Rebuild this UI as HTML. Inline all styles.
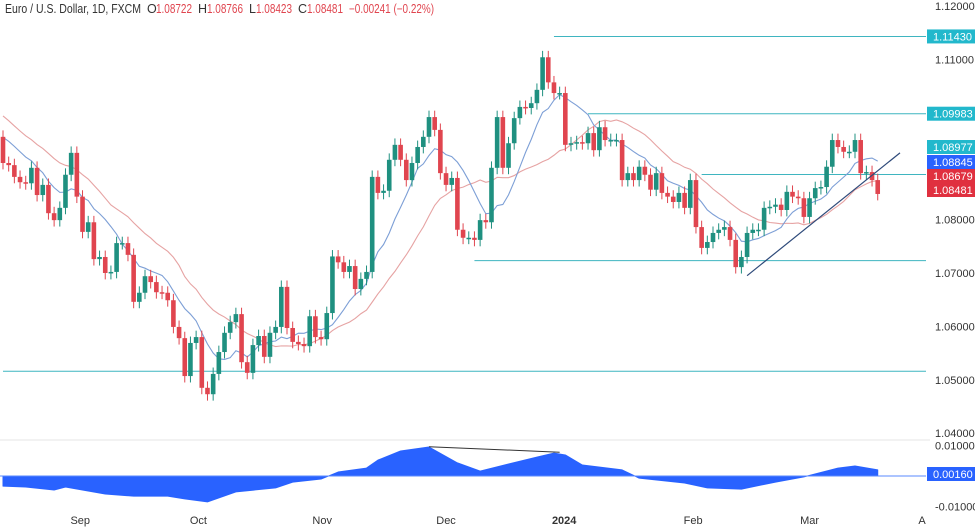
<!DOCTYPE html>
<html><head><meta charset="utf-8"><style>
body{margin:0;background:#fff;width:975px;height:528px;overflow:hidden;font-family:"Liberation Sans",sans-serif}
svg{display:block}
</style></head><body>
<svg id="c" width="975" height="528" xmlns="http://www.w3.org/2000/svg">
<g font-size="12.5">
<text x="5" y="13" fill="#333" textLength="136" lengthAdjust="spacingAndGlyphs">Euro / U.S. Dollar, 1D, FXCM</text>
<text x="147" y="13" fill="#333">O</text><text x="156" y="13" fill="#e0454f" textLength="36" lengthAdjust="spacingAndGlyphs">1.08722</text>
<text x="198" y="13" fill="#333">H</text><text x="207" y="13" fill="#e0454f" textLength="36" lengthAdjust="spacingAndGlyphs">1.08766</text>
<text x="249" y="13" fill="#333">L</text><text x="256" y="13" fill="#e0454f" textLength="36" lengthAdjust="spacingAndGlyphs">1.08423</text>
<text x="298" y="13" fill="#333">C</text><text x="307" y="13" fill="#e0454f" textLength="36" lengthAdjust="spacingAndGlyphs">1.08481</text>
<text x="349" y="13" fill="#e0454f" textLength="85" lengthAdjust="spacingAndGlyphs">−0.00241 (−0.22%)</text>
</g>
<line x1="0" y1="440" x2="930" y2="440" stroke="#e6e6e6"/>
<g id="g"></g>
</svg>
<script>
const priorCloses=[1.1090,1.1080,1.1075,1.1060,1.1050,1.1040,1.1030,1.1010,1.1000,1.0990,1.0985,1.0975,1.0970,1.0965,1.0960,1.0958,1.0960,1.0958,1.0955,1.0955];
const firstOpen=1.0955;
const closes=[1.0906,1.0902,1.0880,1.0870,1.0868,1.0897,1.0846,1.0865,1.0812,1.0799,1.0822,1.0884,1.0925,1.0843,1.0777,1.0795,1.0726,1.0730,1.0700,1.0702,1.0756,1.0756,1.0734,1.0646,1.0663,1.0694,1.0683,1.0664,1.0663,1.0649,1.0599,1.0578,1.0507,1.0569,1.0580,1.0485,1.0473,1.0511,1.0552,1.0588,1.0608,1.0623,1.0533,1.0513,1.0565,1.0582,1.0543,1.0588,1.0599,1.0674,1.0597,1.0571,1.0567,1.0563,1.0619,1.0580,1.0576,1.0625,1.0731,1.0720,1.0702,1.0713,1.0670,1.0689,1.0702,1.0880,1.0850,1.0854,1.0912,1.0940,1.0912,1.0874,1.0906,1.0936,1.0955,1.0992,1.0968,1.0887,1.0865,1.0878,1.0781,1.0766,1.0766,1.0762,1.0799,1.0795,1.0897,1.0992,1.0897,1.0943,1.0990,1.1011,1.1009,1.1018,1.1043,1.1104,1.1057,1.1037,1.1037,1.0940,1.0943,1.0945,1.0943,1.0962,1.0930,1.0973,1.0949,1.0949,1.0949,1.0874,1.0887,1.0874,1.0899,1.0884,1.0856,1.0887,1.0850,1.0843,1.0833,1.0850,1.0822,1.0874,1.0786,1.0747,1.0758,1.0775,1.0781,1.0786,1.0762,1.0711,1.0730,1.0775,1.0781,1.0781,1.0822,1.0824,1.0828,1.0818,1.0852,1.0843,1.0840,1.0805,1.0840,1.0859,1.0861,1.0899,1.0949,1.0936,1.0927,1.0927,1.0949,1.0887,1.0889,1.0874,1.0848];
const oscIdx=[0,4,9,11,18,23,29,32,36,41,48,51,56,59,64,66,70,75,80,84,87,94,97,99,102,109,112,120,124,130,136,141,147,150,154];
const oscVals=[-0.0033,-0.0036,-0.0046,-0.0036,-0.0059,-0.0066,-0.0066,-0.0075,-0.0085,-0.0052,-0.0039,-0.0020,-0.0010,0.0013,0.0026,0.0052,0.0082,0.0095,0.0043,0.0016,0.0030,0.0062,0.0075,0.0069,0.0036,0.0020,-0.0007,-0.0023,-0.0039,-0.0043,-0.0020,-0.0003,0.0026,0.0033,0.0020];
const priceTicks=[1.12,1.11,1.08,1.07,1.06,1.05,1.04];
const levels=[1.1143,1.09983,1.08845,1.07231,1.05159];
const levelStartIdx=[97,103,123,83,0];
const monthLabels=["Sep","Oct","Nov","Dec","2024","Feb","Mar","A"];
const monthIdx=[13.6,34.4,56.2,78,98.8,121.5,142,161.8];

const X=i=>3+i*5.68;
const Y=p=>6+(1.12-p)*5340;
const OY=v=>476-v*3050;
const G=document.getElementById('g');
const NS='http://www.w3.org/2000/svg';
function mk(t,a){const e=document.createElementNS(NS,t);for(const k in a)e.setAttribute(k,a[k]);G.appendChild(e);return e;}

priceTicks.forEach(p=>{const t=mk('text',{x:935,y:Y(p)+4,'font-size':11,fill:'#333'});t.textContent=p.toFixed(5);

});
[["0.01000",0.01],["-0.01000",-0.01]].forEach(a=>{const t=mk('text',{x:935,y:OY(a[1])+4,'font-size':11,fill:'#333'});t.textContent=a[0];

});
monthLabels.forEach((m,k)=>{const t=mk('text',{x:X(monthIdx[k]),y:524,'font-size':11,fill:'#333','text-anchor':'middle','font-weight':m==='2024'?'bold':'normal'});t.textContent=m;

});

levels.forEach((l,k)=>{const e=mk('line',{x1:X(levelStartIdx[k]),x2:926,y1:Y(l),y2:Y(l),stroke:'#3fb5c0','stroke-width':1});

});

const all=priorCloses.concat(closes);
function sma(n){let pts=[];for(let i=0;i<closes.length;i++){const j=i+priorCloses.length;let s=0;for(let k=j-n+1;k<=j;k++)s+=all[k];pts.push(X(i)+','+Y(s/n));}return pts.join(' ');}
const m20=mk('polyline',{points:sma(20),fill:'none',stroke:'#e6a3a3','stroke-width':1.1});


const m9=mk('polyline',{points:sma(9),fill:'none',stroke:'#7d9fd6','stroke-width':1.1});



closes.forEach((c,i)=>{const o=i===0?firstOpen:closes[i-1];const up=c>=o;const col=up?'#1f9080':'#e0454f';
const hi=Math.max(o,c)+0.0012,lo=Math.min(o,c)-0.0012;
const w=mk('line',{x1:X(i),x2:X(i),y1:Y(hi),y2:Y(lo),stroke:col,'stroke-width':1});


const b=mk('rect',{x:X(i)-2.3,width:4.6,y:Y(Math.max(o,c)),height:Math.max(1.5,Math.abs(Y(o)-Y(c))),fill:col});

});

const tl=mk('line',{x1:X(131),y1:Y(1.0695),x2:900,y2:Y(1.0925),stroke:'#2e4a7a','stroke-width':1.2});



let d='M'+X(oscIdx[0])+','+OY(0);
oscIdx.forEach((ix,k)=>{d+=' L'+X(ix)+','+OY(oscVals[k]);});
d+=' L'+X(oscIdx[oscIdx.length-1])+','+OY(0)+' Z';
const oa=mk('path',{d:d,fill:'#2962ff','stroke':'#2962ff','stroke-linejoin':'round','stroke-width':1});


const zl=mk('line',{x1:0,x2:926,y1:OY(0),y2:OY(0),stroke:'#5a8aff','stroke-width':1});


const dl=mk('line',{x1:X(75),y1:OY(0.0096),x2:X(98),y2:OY(0.0078),stroke:'#333','stroke-width':1});



const boxes=[["1.11430",Y(1.1143),'#22b8cc'],["1.09983",Y(1.09983),'#22b8cc'],["1.08977",147,'#22b8cc'],["1.08845",162,'#2962ff'],["1.08679",176,'#e0303f'],["1.08481",190,'#e0303f'],["0.00160",474,'#2962ff']];
boxes.forEach(b=>{const r=mk('rect',{x:927,y:b[1]-7,width:48,height:14,fill:b[2]});


const t=mk('text',{x:933,y:b[1]+4,'font-size':11,fill:'#fff'});t.textContent=b[0];

});
</script>
</body></html>
